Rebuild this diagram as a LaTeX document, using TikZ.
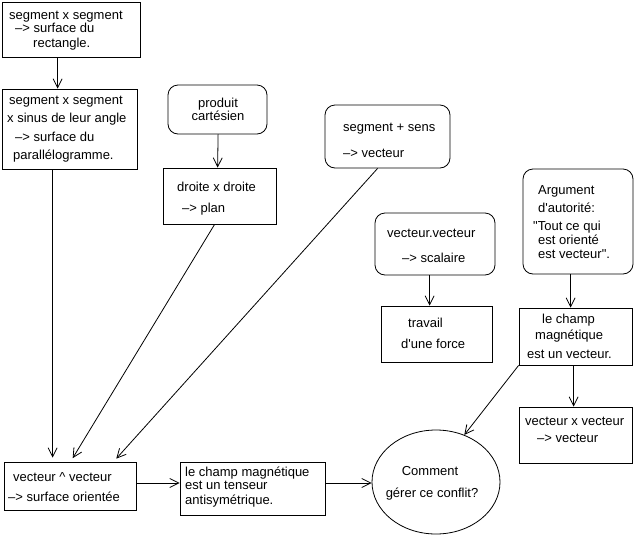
\documentclass[tikz,border=0pt]{standalone}
\usepackage{fontspec}
\setmainfont{Liberation Sans}[Ligatures=TeXOff]
\usetikzlibrary{arrows.meta,calc,shapes.geometric}
\begin{document}
\begin{tikzpicture}[x=1pt,y=-1pt,
  box/.style={draw,line width=0.8pt,inner sep=0pt,rectangle},
  rbox/.style={box,rounded corners=10pt},
  ell/.style={draw,line width=0.8pt,ellipse,inner sep=0pt},
  txt/.style={anchor=base west,inner sep=0pt,font=\fontsize{13}{15}\selectfont},
  ctxt/.style={anchor=base,inner sep=0pt,font=\fontsize{13}{15}\selectfont},
  arr/.style={line width=0.8pt,-{Straight Barb[length=9pt,width=9pt,line width=0.8pt]}},
  ln/.style={line width=0.8pt}]
\useasboundingbox (0,0) rectangle (634,536);
% boxes
\node[box,minimum width=138pt,minimum height=55pt] (A) at (71,29.5) {};
\node[box,minimum width=135pt,minimum height=80pt] (B) at (69.5,129) {};
\node[rbox,minimum width=99pt,minimum height=49pt] (P) at (217.5,109.5) {};
\node[box,minimum width=113pt,minimum height=56pt] (D) at (219.5,196) {};
\node[rbox,minimum width=125pt,minimum height=63pt] (S) at (387.5,136.5) {};
\node[rbox,minimum width=120pt,minimum height=62pt] (V) at (435,244) {};
\node[box,minimum width=111pt,minimum height=56pt] (T) at (436.5,334) {};
\node[rbox,minimum width=110pt,minimum height=105pt] (G) at (578,221.5) {};
\node[box,minimum width=113pt,minimum height=57pt] (C) at (575.5,336.5) {};
\node[box,minimum width=113pt,minimum height=56pt] (X) at (575.5,435) {};
\node[box,minimum width=132pt,minimum height=48pt] (E) at (70,486) {};
\node[box,minimum width=145pt,minimum height=53pt] (F) at (252.5,488.5) {};
\node[ell,minimum width=128pt,minimum height=104pt] (Q) at (436,482) {};
% texts
\node[txt] (a1) at (9,19.5) {segment x segment};
\node[txt] (a2) at (15,32.5) {–> surface du};
\node[txt] (a3) at (33,47.5) {rectangle.};
\node[txt] (b1) at (9,104.5) {segment x segment};
\node[txt] (b2) at (7,122.5) {x sinus de leur angle};
\node[txt] (b3) at (15,141.5) {–> surface du};
\node[txt] (b4) at (13,159.5) {parallélogramme.};
\node[ctxt] (p1) at (218,107.5) {produit};
\node[ctxt] (p2) at (218,120.5) {cartésien};
\node[txt] (d1) at (177,191.5) {droite x droite};
\node[txt] (d2) at (182,212.5) {–> plan};
\node[txt] (s1) at (343,131.5) {segment + sens};
\node[txt] (s2) at (343,157.5) {–> vecteur};
\node[txt] (v1) at (387,237.5) {vecteur.vecteur};
\node[txt] (v2) at (402,262.5) {–> scalaire};
\node[txt] (t1) at (408,327.5) {travail};
\node[txt] (t2) at (401,348.5) {d'une force};
\node[txt] (g1) at (538,194.5) {Argument};
\node[txt] (g2) at (538,212.5) {d'autorité:};
\node[txt] (g3) at (533,230.5) {"Tout ce qui};
\node[txt] (g4) at (538,244.5) {est orienté};
\node[txt] (g5) at (538,258.5) {est vecteur".};
\node[txt] (c1) at (542,323.5) {le champ};
\node[txt] (c2) at (535,339.5) {magnétique};
\node[txt] (c3) at (527,358.5) {est un vecteur.};
\node[txt] (x1) at (525,425.5) {vecteur x vecteur};
\node[txt] (x2) at (537,442.5) {–> vecteur};
\node[txt] (e1) at (13,481.5) {vecteur \textasciicircum{} vecteur};
\node[txt] (e2) at (8,501.5) {–> surface orientée};
\node[txt] (f1) at (185,476.5) {le champ magnétique};
\node[txt] (f2) at (185,489.5) {est un tenseur};
\node[txt] (f3) at (185,504.5) {antisymétrique.};
\node[ctxt] (q1) at (430,475.5) {Comment};
\node[ctxt] (q2) at (432,497.5) {gérer ce conflit?};
% connectors
\draw[arr] ($(A.south west)+(56,0)$) -- ($(B.north west)+(56,0)$);
\draw[arr,shorten >=4pt] ($(B.south west)+(51,0)$) -- ($(E.north west)+(49,0)$);
\draw[arr,shorten >=4pt] ($(D.south west)+(52,0)$) -- ($(E.north west)+(67,0)$);
\draw[arr,shorten >=4pt] ($(S.south west)+(53,0)$) -- ($(E.north west)+(110,0)$);
\draw[arr] ($(P.south west)+(50.5,0)$) -- ($(D.north west)+(55,0)$);
\draw[arr] ($(V.south west)+(55,0)$) -- ($(T.north west)+(49,0)$);
\draw[arr] ($(G.south west)+(48,0)$) -- ($(C.north west)+(52,0)$);
\draw[arr] ($(C.south west)+(55,0)$) -- ($(X.north west)+(55,0)$);
\draw[arr] (C.south west) -- (Q.59);
\draw[arr] (E.east |- 0,483) -- (F.west |- 0,483);
\draw[arr] (F.east |- 0,483) -- (Q.west |- 0,483);
\end{tikzpicture}
\end{document}
